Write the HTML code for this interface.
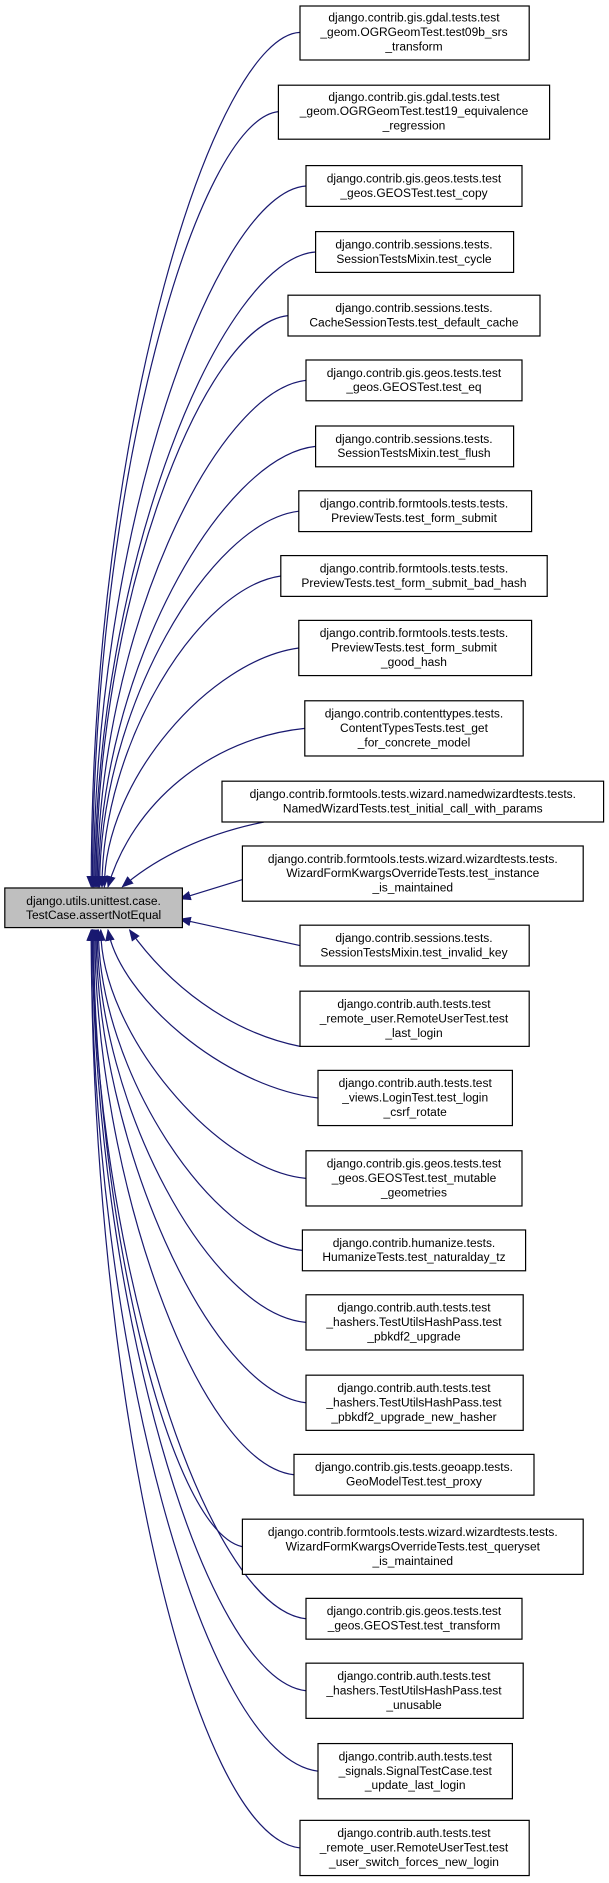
<!DOCTYPE html>
<html><head><meta charset="utf-8"><style>html,body{margin:0;padding:0;background:#fff}svg{display:block}</style></head>
<body>
<svg width="609" height="1883" viewBox="0 0 507.5 1569.2" xmlns="http://www.w3.org/2000/svg" font-family="'Liberation Sans', Arial, sans-serif" font-size="10">
<defs>
<marker id="a" markerWidth="10" markerHeight="8" refX="9" refY="4" orient="auto" markerUnits="userSpaceOnUse">
<path d="M0,0 L10,4 L0,8 Z" fill="#191970"/>
</marker>
</defs>
<g fill="none" stroke="#191970" stroke-width="1" marker-end="url(#a)">
<path d="M250,27 C180,30 76,350 76,739"/>
<path d="M232,93 C165,100 77,400 77,739"/>
<path d="M255,155 C180,160 78,440 78,739"/>
<path d="M263,210 C185,215 79,470 79,739"/>
<path d="M240,263 C170,270 80,500 80,739"/>
<path d="M255,317 C180,325 81,530 81,739"/>
<path d="M263,372 C185,380 82,560 82,739"/>
<path d="M249,426 C175,435 83,590 83,739"/>
<path d="M234,480 C165,490 85,620 85,739"/>
<path d="M249,540 C175,550 87,650 87,739"/>
<path d="M254,607 C175,615 110,670 90,739"/>
<path d="M220,685 C170,695 130,715 102,739"/>
<path d="M202,733 L150,749"/>
<path d="M250,788 L150,766"/>
<path d="M250,872 C190,860 140,820 108,775"/>
<path d="M265,915 C185,905 100,830 90,775"/>
<path d="M255,982 C180,975 84,860 84,775"/>
<path d="M252,1042 C175,1035 82,890 82,775"/>
<path d="M255,1102 C175,1095 81,920 81,775"/>
<path d="M255,1169 C175,1160 80,950 80,775"/>
<path d="M245,1229 C165,1220 79,980 79,775"/>
<path d="M202,1289 C140,1275 78,1010 78,775"/>
<path d="M255,1349 C170,1340 77,1040 77,775"/>
<path d="M255,1409 C170,1400 77,1080 77,775"/>
<path d="M265,1476 C170,1465 76,1120 76,775"/>
<path d="M250,1540 C160,1530 76,1160 76,775"/>
</g>
<g stroke="#000" stroke-width="1" fill="#fff">
<rect x="4" y="740" width="148" height="33" fill="#bfbfbf"/>
<rect x="250" y="5" width="191" height="45"/>
<rect x="232" y="71" width="226" height="45"/>
<rect x="255" y="138" width="180" height="34"/>
<rect x="263" y="193" width="165" height="34"/>
<rect x="240" y="246" width="210" height="34"/>
<rect x="255" y="300" width="180" height="34"/>
<rect x="263" y="355" width="165" height="34"/>
<rect x="249" y="409" width="194" height="34"/>
<rect x="234" y="463" width="222" height="34"/>
<rect x="249" y="517" width="194" height="46"/>
<rect x="254" y="584" width="182" height="46"/>
<rect x="185" y="651" width="318" height="34"/>
<rect x="202" y="705" width="284" height="46"/>
<rect x="250" y="771" width="191" height="34"/>
<rect x="250" y="826" width="191" height="46"/>
<rect x="265" y="892" width="162" height="46"/>
<rect x="255" y="959" width="180" height="46"/>
<rect x="252" y="1025" width="186" height="34"/>
<rect x="255" y="1079" width="181" height="46"/>
<rect x="255" y="1146" width="181" height="46"/>
<rect x="245" y="1212" width="200" height="34"/>
<rect x="202" y="1266" width="284" height="46"/>
<rect x="255" y="1332" width="180" height="34"/>
<rect x="255" y="1386" width="181" height="46"/>
<rect x="265" y="1453" width="162" height="46"/>
<rect x="250" y="1517" width="191" height="46"/>
</g>
<g fill="#000" text-anchor="middle">
<text x="78" y="754">django.utils.unittest.case.</text><text x="78" y="766">TestCase.assertNotEqual</text>
<text x="345" y="18">django.contrib.gis.gdal.tests.test</text><text x="345" y="30">_geom.OGRGeomTest.test09b_srs</text><text x="345" y="42">_transform</text>
<text x="345" y="84">django.contrib.gis.gdal.tests.test</text><text x="345" y="96">_geom.OGRGeomTest.test19_equivalence</text><text x="345" y="108">_regression</text>
<text x="345" y="152">django.contrib.gis.geos.tests.test</text><text x="345" y="164">_geos.GEOSTest.test_copy</text>
<text x="345" y="207">django.contrib.sessions.tests.</text><text x="345" y="219">SessionTestsMixin.test_cycle</text>
<text x="345" y="260">django.contrib.sessions.tests.</text><text x="345" y="272">CacheSessionTests.test_default_cache</text>
<text x="345" y="314">django.contrib.gis.geos.tests.test</text><text x="345" y="326">_geos.GEOSTest.test_eq</text>
<text x="345" y="369">django.contrib.sessions.tests.</text><text x="345" y="381">SessionTestsMixin.test_flush</text>
<text x="345" y="423">django.contrib.formtools.tests.tests.</text><text x="345" y="435">PreviewTests.test_form_submit</text>
<text x="345" y="477">django.contrib.formtools.tests.tests.</text><text x="345" y="489">PreviewTests.test_form_submit_bad_hash</text>
<text x="345" y="531">django.contrib.formtools.tests.tests.</text><text x="345" y="543">PreviewTests.test_form_submit</text><text x="345" y="555">_good_hash</text>
<text x="345" y="598">django.contrib.contenttypes.tests.</text><text x="345" y="610">ContentTypesTests.test_get</text><text x="345" y="622">_for_concrete_model</text>
<text x="344" y="665">django.contrib.formtools.tests.wizard.namedwizardtests.tests.</text><text x="344" y="677">NamedWizardTests.test_initial_call_with_params</text>
<text x="344" y="719">django.contrib.formtools.tests.wizard.wizardtests.tests.</text><text x="344" y="731">WizardFormKwargsOverrideTests.test_instance</text><text x="344" y="743">_is_maintained</text>
<text x="345" y="785">django.contrib.sessions.tests.</text><text x="345" y="797">SessionTestsMixin.test_invalid_key</text>
<text x="345" y="840">django.contrib.auth.tests.test</text><text x="345" y="852">_remote_user.RemoteUserTest.test</text><text x="345" y="864">_last_login</text>
<text x="346" y="906">django.contrib.auth.tests.test</text><text x="346" y="918">_views.LoginTest.test_login</text><text x="346" y="930">_csrf_rotate</text>
<text x="345" y="973">django.contrib.gis.geos.tests.test</text><text x="345" y="985">_geos.GEOSTest.test_mutable</text><text x="345" y="997">_geometries</text>
<text x="345" y="1039">django.contrib.humanize.tests.</text><text x="345" y="1051">HumanizeTests.test_naturalday_tz</text>
<text x="345" y="1093">django.contrib.auth.tests.test</text><text x="345" y="1105">_hashers.TestUtilsHashPass.test</text><text x="345" y="1117">_pbkdf2_upgrade</text>
<text x="345" y="1160">django.contrib.auth.tests.test</text><text x="345" y="1172">_hashers.TestUtilsHashPass.test</text><text x="345" y="1184">_pbkdf2_upgrade_new_hasher</text>
<text x="345" y="1226">django.contrib.gis.tests.geoapp.tests.</text><text x="345" y="1238">GeoModelTest.test_proxy</text>
<text x="344" y="1280">django.contrib.formtools.tests.wizard.wizardtests.tests.</text><text x="344" y="1292">WizardFormKwargsOverrideTests.test_queryset</text><text x="344" y="1304">_is_maintained</text>
<text x="345" y="1346">django.contrib.gis.geos.tests.test</text><text x="345" y="1358">_geos.GEOSTest.test_transform</text>
<text x="345" y="1400">django.contrib.auth.tests.test</text><text x="345" y="1412">_hashers.TestUtilsHashPass.test</text><text x="345" y="1424">_unusable</text>
<text x="346" y="1467">django.contrib.auth.tests.test</text><text x="346" y="1479">_signals.SignalTestCase.test</text><text x="346" y="1491">_update_last_login</text>
<text x="345" y="1531">django.contrib.auth.tests.test</text><text x="345" y="1543">_remote_user.RemoteUserTest.test</text><text x="345" y="1555">_user_switch_forces_new_login</text>
</g>
</svg>
</body></html>
